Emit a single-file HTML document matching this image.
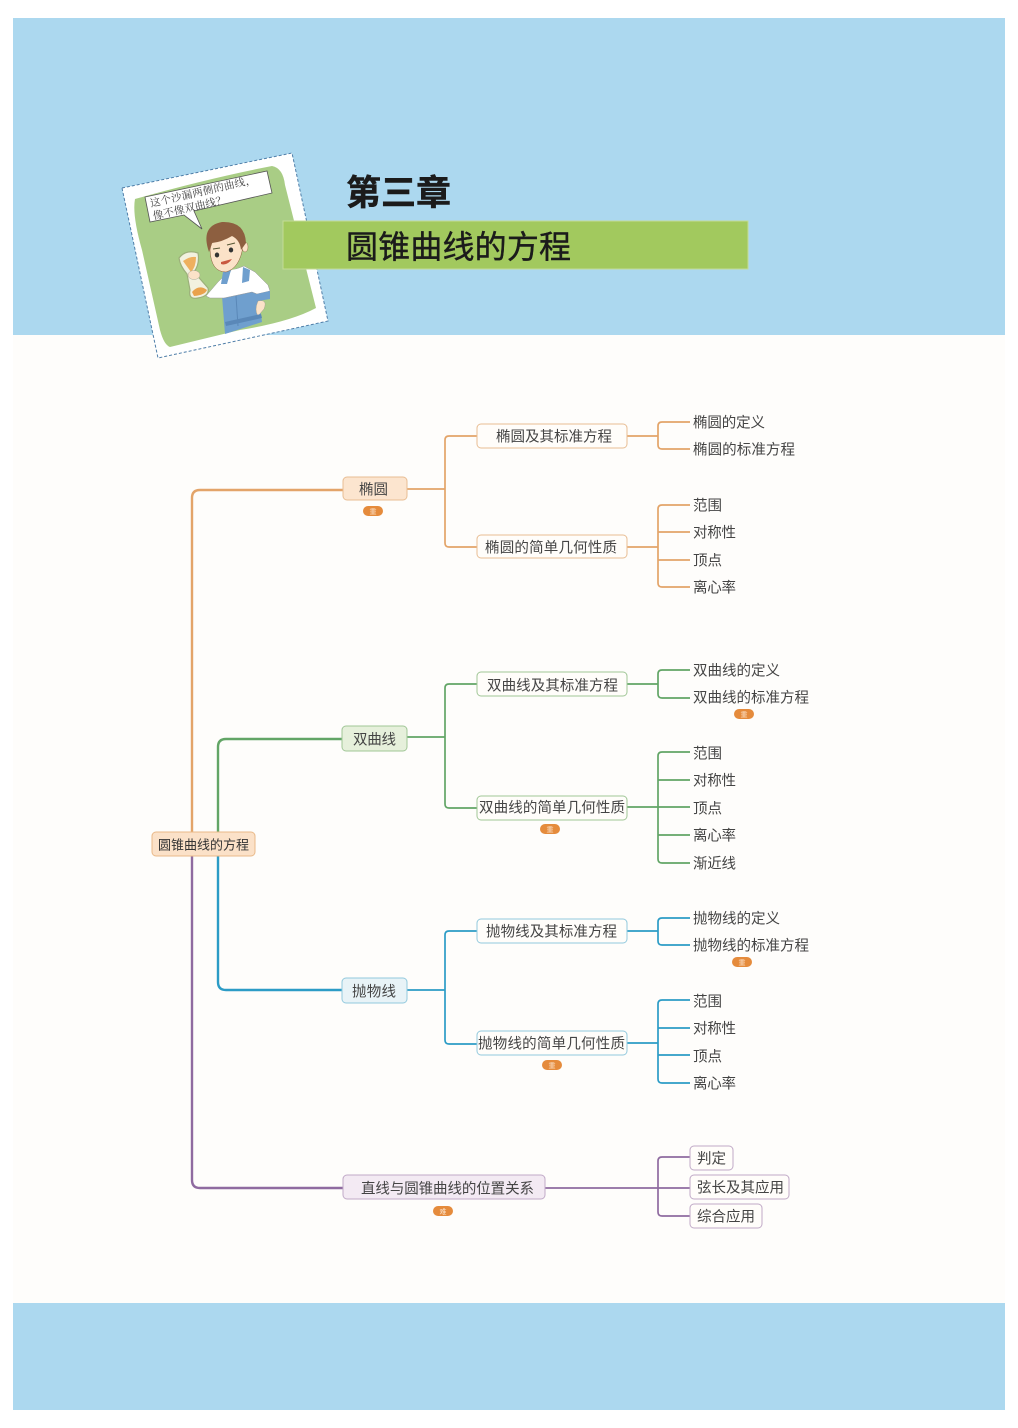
<!DOCTYPE html>
<html lang="zh"><head><meta charset="utf-8"><title>圆锥曲线的方程</title>
<style>
html,body{margin:0;padding:0;background:#fff}
svg{display:block;filter:blur(.35px)}
text{font-family:"Liberation Sans","Noto Sans CJK SC",sans-serif;fill:#444;font-size:14.5px;transform:translateY(.7px)}
.t{transform:none}
.b{font-size:7px;fill:#fbe3cc;text-anchor:middle}
.l{fill:none;stroke-width:1.7;stroke-linejoin:round}
.m{fill:none;stroke-width:2.4}
</style></head><body>
<svg width="1018" height="1428" viewBox="0 0 1018 1428" xmlns="http://www.w3.org/2000/svg">
<rect width="1018" height="1428" fill="#fff"/>
<rect x="13" y="18" width="992" height="1392" fill="#fefdfb"/>
<rect x="13" y="18" width="992" height="317" fill="#acd8ef"/>
<rect x="13" y="1303" width="992" height="107" fill="#acd8ef"/>

<!-- card -->
<polygon points="122,188 292,153 328,321 158,358" fill="#fff" stroke="#4f7ea8" stroke-width="1" stroke-dasharray="3 2"/>
<path d="M135,199 Q210,178 272,166 Q283,168 285,185 L316,308 Q290,322 240,330 L170,347 Q164,345 160,330 L142,250 Q132,215 135,199Z" fill="#a9cd85"/>
<polygon points="145,197 267,171 272,193 194,211 202,229 184,215 150,222" fill="#fff" stroke="#555" stroke-width=".8"/>
<g transform="rotate(-13 151 207)">
<text class="t" x="151" y="207" style="font-family:'Liberation Serif','Noto Serif CJK SC',serif;font-size:10.5px" textLength="108">这个沙漏两侧的曲线，</text>
<text class="t" x="151" y="220" style="font-family:'Liberation Serif','Noto Serif CJK SC',serif;font-size:10.5px" textLength="75">像不像双曲线？</text>
</g>
<!-- boy -->
<path d="M225,334 L222,296 L228,272 L244,266 L255,272 L268,286 L269,296 L258,294 L262,322 Z" fill="#6f9fce"/>
<path d="M228,272 L218,282 L206,296 L210,298 L224,298 L252,292 L257,294 L270,291 L268,285 L255,272 L244,266 Z" fill="#fff" stroke="#999" stroke-width=".5"/>
<path d="M223,272 L221,284 L227,284 L231,270Z M243,267 L242,283 L249,281 L250,270Z" fill="#6f9fce"/>
<path d="M231,270 L236,286 L242,268Z" fill="#fff"/>
<path d="M257,294 L270,291 L270,299 L258,301Z" fill="#6f9fce"/>
<path d="M258,301 Q268,299 264,309 L258,316 Q254,310 258,301Z" fill="#fbe2c8" stroke="#998" stroke-width=".4"/>
<path d="M225,322 L261,314 L262,318 L226,326Z" fill="#5a88b8"/>
<path d="M236,296 L238,326" stroke="#5a88b8" stroke-width="1" fill="none"/>
<path d="M210,250 Q211,272 226,272 Q240,268 243,246 Q238,232 224,234 Q212,236 210,250Z" fill="#fbe2c8" stroke="#8b5a3a" stroke-width=".5"/>
<ellipse cx="245" cy="247" rx="3" ry="5" fill="#fbe2c8" stroke="#8b5a3a" stroke-width=".4"/>
<path d="M209,252 Q200,226 222,222 Q245,221 246,243 L241,250 Q240,240 232,236 Q222,242 212,243Z" fill="#8d5f40"/>
<ellipse cx="217" cy="255" rx="2.2" ry="2.5" fill="#333"/><ellipse cx="231" cy="250" rx="2.2" ry="2.5" fill="#333"/>
<path d="M213,249 L220,248 M227,245 L235,243" stroke="#553" stroke-width="1" fill="none"/>
<path d="M221,264 Q227,266 232,259 L221,262Z" fill="#c9583f"/>
<path d="M179,258 Q186,249 198,253 Q200,264 194,272 L208,288 Q210,296 198,298 Q188,300 190,290 L187,274 Q180,266 179,258Z" fill="#f2f1df" stroke="#9cb07a" stroke-width="1.2"/>
<path d="M183,261 Q190,256 196,257 Q196,267 191,272Z" fill="#eeb05e"/>
<path d="M192,292 Q199,284 207,290 Q205,295 194,296Z" fill="#e9a24c"/>
<ellipse cx="194" cy="275" rx="6" ry="4.5" fill="#fbe2c8" stroke="#998" stroke-width=".4"/>

<!-- title -->
<rect x="283" y="221" width="465" height="48" fill="#a2c95e" stroke="#c4dc96" stroke-width="1"/>
<text class="t" x="346" y="205" style="font-size:35px;font-weight:700;fill:#1b1b1b;stroke:#1b1b1b;stroke-width:.5" textLength="105">第三章</text>
<text class="t" x="346" y="258" style="font-size:32px;fill:#1b1b1b;stroke:#1b1b1b;stroke-width:.4" textLength="225">圆锥曲线的方程</text>

<!-- main trunks -->
<path class="m" d="M192,832V498Q192,490 200,490H343" stroke="#e3a469"/>
<path class="m" d="M192,856V1180Q192,1188 200,1188H343" stroke="#8f6ba0"/>
<path class="m" d="M218,832V747Q218,739 226,739H342" stroke="#62a566"/>
<path class="m" d="M218,856V982Q218,990 226,990H342" stroke="#2c9cc6"/>

<!-- orange -->
<g stroke="#e3a469">
<path class="l" d="M407,489H445M477,436H449Q445,436 445,440V543Q445,547 449,547H477"/>
<path class="l" d="M627,436H658M690,422H662Q658,422 658,426V445Q658,449 662,449H690"/>
<path class="l" d="M627,547H658M690,505H662Q658,505 658,509V583Q658,587 662,587H690M658,532H690M658,560H690"/>
</g>
<!-- green -->
<g stroke="#62a566">
<path class="l" d="M407,737H445M477,684H449Q445,684 445,688V804Q445,808 449,808H477"/>
<path class="l" d="M627,684H658M690,670H662Q658,670 658,674V694Q658,698 662,698H690"/>
<path class="l" d="M627,807H658M690,752H662Q658,752 658,756V859Q658,863 662,863H690M658,780H690M658,807H690M658,835H690"/>
</g>
<!-- blue -->
<g stroke="#2c9cc6">
<path class="l" d="M407,990H445M477,931H449Q445,931 445,935V1040Q445,1044 449,1044H477"/>
<path class="l" d="M627,931H658M690,918H662Q658,918 658,922V941Q658,945 662,945H690"/>
<path class="l" d="M627,1043H658M690,1000H662Q658,1000 658,1004V1079Q658,1083 662,1083H690M658,1028H690M658,1055H690"/>
</g>
<!-- purple -->
<g stroke="#8f6ba0">
<path class="l" d="M545,1188H690M690,1157H662Q658,1157 658,1161V1212Q658,1216 662,1216H690"/>
</g>

<!-- nodes -->
<rect x="152" y="832" width="103" height="24" rx="4" fill="#fbe1c8" stroke="#e9b988"/>
<text x="158" y="849" style="font-size:13px;fill:#333" textLength="91">圆锥曲线的方程</text>

<rect x="343" y="477" width="64" height="23" rx="4" fill="#fce5cf" stroke="#e8bd93"/>
<text x="359" y="494" textLength="29">椭圆</text>
<rect x="342" y="726" width="65" height="25" rx="4" fill="#e6f0db" stroke="#a0c696"/>
<text x="353" y="744" textLength="43">双曲线</text>
<rect x="342" y="978" width="65" height="25" rx="4" fill="#e8f3f7" stroke="#92c9dd"/>
<text x="352" y="996" textLength="44">抛物线</text>
<rect x="343" y="1175" width="202" height="24" rx="4" fill="#f3eaf3" stroke="#c0a9c7"/>
<text x="361" y="1193" textLength="173">直线与圆锥曲线的位置关系</text>

<g fill="#fffdfa" stroke="#e8bd93">
<rect x="477" y="424" width="150" height="24" rx="4"/>
<rect x="477" y="535" width="150" height="23" rx="4"/>
</g>
<text x="496" y="441" textLength="116">椭圆及其标准方程</text>
<text x="485" y="552" textLength="132">椭圆的简单几何性质</text>
<g fill="#fffdfa" stroke="#a0c696">
<rect x="477" y="672" width="150" height="24" rx="4"/>
<rect x="477" y="796" width="150" height="24" rx="4"/>
</g>
<text x="487" y="690" textLength="131">双曲线及其标准方程</text>
<text x="479" y="812" textLength="146">双曲线的简单几何性质</text>
<g fill="#fffdfa" stroke="#92c9dd">
<rect x="477" y="919" width="150" height="24" rx="4"/>
<rect x="477" y="1031" width="150" height="24" rx="4"/>
</g>
<text x="486" y="936" textLength="131">抛物线及其标准方程</text>
<text x="478" y="1048" textLength="147">抛物线的简单几何性质</text>
<g fill="#fffdfa" stroke="#c0a9c7">
<rect x="690" y="1146" width="43" height="24" rx="4"/>
<rect x="690" y="1175" width="99" height="24" rx="4"/>
<rect x="690" y="1204" width="72" height="24" rx="4"/>
</g>
<text x="697" y="1163" textLength="29">判定</text>
<text x="697" y="1192" textLength="87">弦长及其应用</text>
<text x="697" y="1221" textLength="58">综合应用</text>

<!-- leaves -->
<text x="693" y="427" textLength="72">椭圆的定义</text>
<text x="693" y="454" textLength="102">椭圆的标准方程</text>
<text x="693" y="510" textLength="29">范围</text>
<text x="693" y="537" textLength="43">对称性</text>
<text x="693" y="565" textLength="29">顶点</text>
<text x="693" y="592" textLength="43">离心率</text>

<text x="693" y="675" textLength="87">双曲线的定义</text>
<text x="693" y="702" textLength="116">双曲线的标准方程</text>
<text x="693" y="758" textLength="29">范围</text>
<text x="693" y="785" textLength="43">对称性</text>
<text x="693" y="813" textLength="29">顶点</text>
<text x="693" y="840" textLength="43">离心率</text>
<text x="693" y="868" textLength="43">渐近线</text>

<text x="693" y="923" textLength="87">抛物线的定义</text>
<text x="693" y="950" textLength="116">抛物线的标准方程</text>
<text x="693" y="1006" textLength="29">范围</text>
<text x="693" y="1033" textLength="43">对称性</text>
<text x="693" y="1061" textLength="29">顶点</text>
<text x="693" y="1088" textLength="43">离心率</text>

<!-- badges -->
<g fill="#e58b3c">
<rect x="363" y="506" width="20" height="10" rx="5"/>
<rect x="734" y="709" width="20" height="10" rx="5"/>
<rect x="540" y="824" width="20" height="10" rx="5"/>
<rect x="732" y="957" width="20" height="10" rx="5"/>
<rect x="542" y="1060" width="20" height="10" rx="5"/>
<rect x="433" y="1206" width="20" height="10" rx="5"/>
</g>
<text class="b t" x="373" y="514">重</text>
<text class="b t" x="744" y="717">重</text>
<text class="b t" x="550" y="832">重</text>
<text class="b t" x="742" y="965">重</text>
<text class="b t" x="552" y="1068">重</text>
<text class="b t" x="443" y="1214">难</text>
</svg>
</body></html>
